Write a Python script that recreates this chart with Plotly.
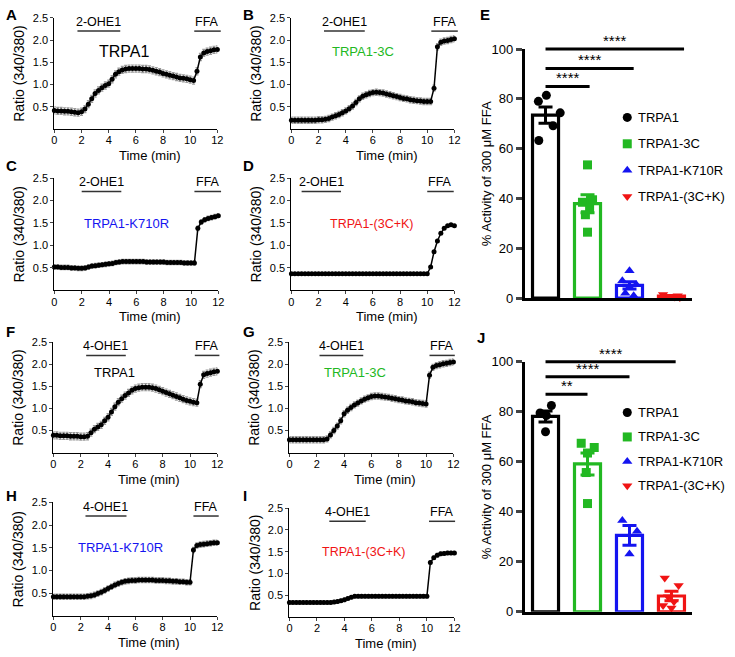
import numpy as np
import plotly.graph_objects as go

W, H = 735, 657
FONT = "Liberation Sans, Arial, sans-serif"

# ---------------- time-course data (ratio 340/380, sampled every 0.25 min) ----------------
TIME_MIN = [i * 0.25 for i in range(49)]
X_TICKS = [0, 2, 4, 6, 8, 10, 12]
Y_TICKS = [0.5, 1.0, 1.5, 2.0, 2.5]

RATIO_A = [0.42, 0.41, 0.41, 0.40, 0.40, 0.39, 0.38, 0.37,
           0.39, 0.45, 0.56, 0.68, 0.80, 0.87, 0.93, 0.98,
           1.02, 1.12, 1.23, 1.29, 1.33, 1.35, 1.36, 1.36,
           1.36, 1.36, 1.35, 1.35, 1.34, 1.32, 1.30, 1.28,
           1.25, 1.23, 1.21, 1.19, 1.17, 1.15, 1.14, 1.13,
           1.11, 1.09, 1.30, 1.62, 1.71, 1.74, 1.76, 1.78, 1.79]
RATIO_B = [0.20, 0.20, 0.20, 0.20, 0.20, 0.20, 0.20, 0.20,
           0.21, 0.21, 0.22, 0.24, 0.27, 0.30, 0.33, 0.37,
           0.41, 0.46, 0.52, 0.60, 0.68, 0.74, 0.77, 0.80,
           0.82, 0.83, 0.82, 0.81, 0.79, 0.77, 0.75, 0.73,
           0.71, 0.69, 0.68, 0.66, 0.65, 0.64, 0.63, 0.62,
           0.62, 0.62, 0.92, 1.85, 1.95, 1.98, 1.99, 2.01, 2.03]
RATIO_C = [0.52, 0.52, 0.51, 0.51, 0.51, 0.50, 0.50, 0.49,
           0.49, 0.50, 0.52, 0.54, 0.55, 0.56, 0.57, 0.58,
           0.59, 0.60, 0.62, 0.63, 0.64, 0.64, 0.64, 0.64,
           0.64, 0.64, 0.64, 0.63, 0.63, 0.63, 0.63, 0.63,
           0.63, 0.62, 0.62, 0.62, 0.62, 0.62, 0.61, 0.61,
           0.61, 0.61, 1.38, 1.52, 1.57, 1.60, 1.62, 1.64, 1.66]
RATIO_D = [0.37, 0.37, 0.37, 0.37, 0.37, 0.37, 0.37, 0.37,
           0.37, 0.37, 0.37, 0.37, 0.37, 0.37, 0.37, 0.37,
           0.37, 0.37, 0.37, 0.37, 0.37, 0.37, 0.37, 0.37,
           0.37, 0.37, 0.37, 0.37, 0.37, 0.37, 0.37, 0.37,
           0.37, 0.37, 0.37, 0.37, 0.37, 0.37, 0.37, 0.37,
           0.37, 0.52, 0.86, 1.10, 1.27, 1.38, 1.44, 1.46, 1.44]
RATIO_F = [0.39, 0.39, 0.38, 0.38, 0.38, 0.37, 0.37, 0.37,
           0.36, 0.36, 0.37, 0.45, 0.53, 0.58, 0.63, 0.72,
           0.80, 0.92, 1.04, 1.14, 1.22, 1.29, 1.35, 1.41,
           1.45, 1.47, 1.48, 1.48, 1.48, 1.47, 1.45, 1.42,
           1.39, 1.36, 1.33, 1.30, 1.27, 1.24, 1.21, 1.18,
           1.16, 1.14, 1.13, 1.55, 1.76, 1.79, 1.81, 1.83, 1.84]
RATIO_G = [0.29, 0.29, 0.29, 0.29, 0.29, 0.29, 0.29, 0.29,
           0.29, 0.29, 0.29, 0.31, 0.40, 0.50, 0.60, 0.72,
           0.88, 0.96, 1.02, 1.08, 1.12, 1.17, 1.21, 1.24,
           1.27, 1.28, 1.28, 1.27, 1.26, 1.25, 1.23, 1.22,
           1.20, 1.19, 1.17, 1.16, 1.15, 1.13, 1.12, 1.11,
           1.10, 1.75, 1.93, 1.97, 1.99, 2.01, 2.02, 2.04, 2.05]
RATIO_H = [0.42, 0.42, 0.42, 0.42, 0.42, 0.42, 0.42, 0.42,
           0.42, 0.42, 0.43, 0.44, 0.46, 0.49, 0.52, 0.56,
           0.60, 0.64, 0.68, 0.71, 0.74, 0.76, 0.77, 0.78,
           0.78, 0.79, 0.79, 0.79, 0.79, 0.79, 0.78, 0.78,
           0.78, 0.77, 0.77, 0.76, 0.76, 0.75, 0.75, 0.74,
           0.74, 1.45, 1.55, 1.57, 1.58, 1.59, 1.60, 1.61, 1.61]
RATIO_I = [0.33, 0.33, 0.33, 0.33, 0.33, 0.33, 0.33, 0.33,
           0.33, 0.33, 0.33, 0.33, 0.33, 0.34, 0.35, 0.37,
           0.39, 0.42, 0.45, 0.47, 0.47, 0.47, 0.47, 0.47,
           0.47, 0.47, 0.47, 0.47, 0.47, 0.47, 0.47, 0.47,
           0.47, 0.47, 0.47, 0.47, 0.47, 0.47, 0.47, 0.47,
           0.47, 1.25, 1.36, 1.42, 1.45, 1.46, 1.47, 1.47, 1.47]

SEM_A, SEM_B, SEM_C, SEM_D = 0.08, 0.07, 0.05, 0.02
SEM_F, SEM_G, SEM_H, SEM_I = 0.08, 0.07, 0.06, 0.04

# ---------------- bar-chart data (% activity of 300 uM FFA) ----------------
GROUPS = ["TRPA1", "TRPA1-3C", "TRPA1-K710R", "TRPA1-(3C+K)"]
E_TRPA1 = [81.4, 79.0, 74.4, 69.2, 63.3]
E_3C = [53.5, 39.5, 38.5, 36.0, 33.5, 26.5]
E_K710R = [11.0, 7.0, 5.5, 4.5, 2.0, 1.0]
E_3CK = [1.5, 1.0, 0.8, 0.5, 0.3]
J_TRPA1 = [82.5, 79.5, 78.5, 72.0]
J_3C = [67.4, 65.7, 63.5, 55.7, 43.3]
J_K710R = [36.5, 32.2, 23.1]
J_3CK = [13.5, 10.5, 6.0, 4.0, 2.5, 1.5]
E_SIG = ["****", "****", "****"]
J_SIG = ["****", "****", "**"]

# ---------------- styling / layout (positions, sizes) ----------------
COLORS = ["#000000", "#22b822", "#1414f0", "#f01414"]
SYMBOLS = ["circle", "square", "triangle-up", "triangle-down"]
E_JITTER = [[0.02, -0.17, 0.35, 0.18, -0.16], [0.0, 0.12, -0.12, 0.05, -0.05, 0.0],
            [0.0, -0.17, 0.16, 0.0, -0.1, 0.1], [-0.2, 0.15, -0.05, 0.08, 0.2]]
J_JITTER = [[0.14, -0.13, 0.02, 0.0], [-0.15, 0.16, 0.0, -0.03, 0.0],
            [-0.17, 0.18, 0.0], [-0.16, 0.17, -0.08, 0.06, -0.2, 0.0]]

# panel: letter, series, sem, drug, group idx, pixel box (left, right, top, bottom),
# drug bar (x0,x1), ffa bar (x0,x1), label (x, y, size)
PANELS = [
    ("A", RATIO_A, SEM_A, "2-OHE1", 0, (52, 217, 11, 125), (1.7, 4.85), (10.3, 12.25), (5.1, 1.75, 16)),
    ("B", RATIO_B, SEM_B, "2-OHE1", 1, (292, 457, 11, 125), (2.4, 5.4), (10.3, 12.25), (5.3, 1.75, 13)),
    ("C", RATIO_C, SEM_C, "2-OHE1", 2, (52, 218, 175, 290), (2.0, 4.9), (10.25, 12.2), (5.3, 1.48, 13)),
    ("D", RATIO_D, SEM_D, "2-OHE1", 3, (292, 457, 175, 290), (0.75, 3.65), (10.0, 11.95), (5.9, 1.48, 12.5)),
    ("F", RATIO_F, SEM_F, "4-OHE1", 0, (51, 217, 343, 456), (2.4, 5.3), (10.35, 12.15), (4.5, 1.82, 13)),
    ("G", RATIO_G, SEM_G, "4-OHE1", 1, (290, 456, 343, 456), (2.2, 5.4), (10.25, 12.1), (4.8, 1.82, 13)),
    ("H", RATIO_H, SEM_H, "4-OHE1", 2, (51, 217, 507, 623), (2.35, 5.35), (10.25, 12.1), (4.9, 1.5, 13)),
    ("I", RATIO_I, SEM_I, "4-OHE1", 3, (290, 457, 513, 624), (2.9, 5.55), (10.15, 12.05), (5.4, 1.5, 12.5)),
]
BAR_PANELS = [
    ("E", [E_TRPA1, E_3C, E_K710R, E_3CK], E_JITTER, E_SIG, (528, 698, 43, 298),
     [(3.3, 100), (2.1, 92.2), (1.05, 85)], [113, 140, 167, 194]),
    ("J", [J_TRPA1, J_3C, J_K710R, J_3CK], J_JITTER, J_SIG, (528, 698, 363, 619),
     [(3.1, 100), (2.0, 94), (1.0, 87)], [415, 440, 465, 490]),
]
LETTERS = [("A", 1, 8), ("B", 241, 8), ("E", 481, 8), ("C", 1, 162), ("D", 241, 162),
           ("F", 1, 332), ("G", 241, 332), ("J", 478, 338), ("H", 1, 500), ("I", 241, 500)]


def px(x):
    return x / W


def py(y):
    return 1 - y / H


fig = go.Figure()
layout = dict(width=W, height=H, margin=dict(l=0, r=0, t=0, b=0),
              paper_bgcolor="white", plot_bgcolor="rgba(0,0,0,0)", showlegend=False,
              barmode="overlay", font=dict(family=FONT, color="black"))
annotations, shapes = [], []

for i, (key, series, sem, drug, g, box, dbar, fbar, lab) in enumerate(PANELS, start=1):
    l, r, t, b = box
    xs = "x" if i == 1 else f"x{i}"
    ys = "y" if i == 1 else f"y{i}"
    xk = "xaxis" if i == 1 else f"xaxis{i}"
    yk = "yaxis" if i == 1 else f"yaxis{i}"
    layout[xk] = dict(domain=[px(l), px(r)], anchor=ys, range=[0, 12], tickvals=X_TICKS,
                      ticks="outside", ticklen=3, tickwidth=1, showline=True, linecolor="black",
                      linewidth=1.2, showgrid=False, zeroline=False, tickfont=dict(size=11),
                      ticklabelstandoff=-2, fixedrange=True)
    layout[yk] = dict(domain=[py(b), py(t)], anchor=xs, range=[0, 2.5], tickvals=Y_TICKS,
                      tickformat=".1f", ticks="outside", ticklen=3, tickwidth=1, showline=True,
                      linecolor="black", linewidth=1.2, showgrid=False, zeroline=False,
                      tickfont=dict(size=11), fixedrange=True)
    fig.add_trace(go.Scatter(x=TIME_MIN, y=series, mode="lines+markers", xaxis=xs, yaxis=ys,
                             line=dict(color="black", width=1.5),
                             marker=dict(color="black", size=5),
                             error_y=dict(type="constant", value=sem, color="rgba(120,120,120,0.75)",
                                          thickness=1.2, width=1.5),
                             cliponaxis=False, showlegend=False, hoverinfo="skip"))
    line_y = 2.2
    for text, (x0, x1) in ((drug, dbar), ("FFA", fbar)):
        shapes.append(dict(type="line", xref=f"{xs} domain", yref=f"{ys} domain",
                           x0=x0 / 12, x1=x1 / 12, y0=line_y / 2.5, y1=line_y / 2.5,
                           line=dict(color="#333333", width=1.5)))
        annotations.append(dict(text=text, xref=xs, yref=ys, x=(x0 + x1) / 2, y=line_y,
                                xanchor="center", yanchor="bottom", yshift=0, showarrow=False,
                                font=dict(size=12.5)))
    annotations.append(dict(text=GROUPS[g], xref=xs, yref=ys, x=lab[0], y=lab[1],
                            xanchor="center", yanchor="middle", showarrow=False,
                            font=dict(size=lab[2], color=COLORS[g])))
    annotations.append(dict(text="Ratio (340/380)", xref=f"{xs} domain", yref=f"{ys} domain",
                            x=0, y=0.5, xshift=-35, textangle=-90, xanchor="center",
                            yanchor="middle", showarrow=False, font=dict(size=14)))
    annotations.append(dict(text="Time (min)", xref=f"{xs} domain", yref=f"{ys} domain",
                            x=0.5, y=0, xshift=14, yshift=-26.5, xanchor="center",
                            yanchor="middle", showarrow=False, font=dict(size=13)))

for j, (key, groups, jitter, sig_text, box, sig, leg_y) in enumerate(BAR_PANELS, start=9):
    l, r, t, b = box
    xs, ys = f"x{j}", f"y{j}"
    layout[f"xaxis{j}"] = dict(domain=[px(l), px(r)], anchor=ys, range=[-0.5, 3.5],
                               showticklabels=False, ticks="", showline=True, linecolor="black",
                               linewidth=2.5, showgrid=False, zeroline=False, fixedrange=True)
    layout[f"yaxis{j}"] = dict(domain=[py(b), py(t)], anchor=xs, range=[0, 100],
                               tickvals=[0, 20, 40, 60, 80, 100], ticks="outside", ticklen=6,
                               tickwidth=2.5, showline=True, linecolor="black", linewidth=2.5,
                               showgrid=False, zeroline=False, tickfont=dict(size=13),
                               fixedrange=True)
    for k, vals in enumerate(groups):
        arr = np.array(vals)
        mean = float(arr.mean())
        sem = float(arr.std(ddof=1) / np.sqrt(len(arr)))
        fig.add_trace(go.Bar(x=[k], y=[mean], width=0.62, xaxis=xs, yaxis=ys,
                             marker=dict(color="white", line=dict(color=COLORS[k], width=3.2)),
                             error_y=dict(type="data", array=[sem], color=COLORS[k],
                                          thickness=3, width=7),
                             showlegend=False, hoverinfo="skip"))
        fig.add_trace(go.Scatter(x=[k + d for d in jitter[k]], y=vals, mode="markers",
                                 xaxis=xs, yaxis=ys, cliponaxis=False,
                                 marker=dict(symbol=SYMBOLS[k], color=COLORS[k], size=9),
                                 showlegend=False, hoverinfo="skip"))
    for (x_end, yv), txt in zip(sig, sig_text):
        shapes.append(dict(type="line", xref=f"{xs} domain", yref=f"{ys} domain",
                           x0=0.5 / 4, x1=(x_end + 0.5) / 4, y0=yv / 100, y1=yv / 100,
                           line=dict(color="black", width=3)))
        annotations.append(dict(text=txt, xref=xs, yref=ys, x=x_end / 2, y=yv,
                                xanchor="center", yanchor="bottom", yshift=-2, showarrow=False,
                                font=dict(size=15)))
    annotations.append(dict(text="% Activity of 300 μM FFA", xref=f"{xs} domain",
                            yref=f"{ys} domain", x=0, y=0.5, xshift=-38, textangle=-90,
                            xanchor="center", yanchor="middle", showarrow=False,
                            font=dict(size=13)))
    # manual legend
    fig.add_trace(go.Scatter(x=[px(632)] * 4, y=[py(v) for v in leg_y], mode="markers",
                             xaxis="x11", yaxis="y11", cliponaxis=False,
                             marker=dict(symbol=SYMBOLS, color=COLORS, size=9),
                             showlegend=False, hoverinfo="skip"))
    for name, v in zip(GROUPS, leg_y):
        annotations.append(dict(text=name, xref="paper", yref="paper", x=px(641), y=py(v),
                                xanchor="left", yanchor="middle", showarrow=False,
                                font=dict(size=13)))

layout["xaxis11"] = dict(domain=[0, 1], range=[0, 1], visible=False, fixedrange=True, anchor="y11")
layout["yaxis11"] = dict(domain=[0, 1], range=[0, 1], visible=False, fixedrange=True, anchor="x11")

for letter, lx, ly in LETTERS:
    annotations.append(dict(text=f"<b>{letter}</b>", xref="paper", yref="paper", x=px(lx),
                            y=py(ly), xanchor="left", yanchor="middle", showarrow=False,
                            font=dict(size=15)))

layout["annotations"] = annotations
layout["shapes"] = shapes
fig.update_layout(**layout)
fig.write_html("out.html", config={"displayModeBar": False},
               post_script="document.body.style.margin='0';document.body.style.overflow='hidden';")
